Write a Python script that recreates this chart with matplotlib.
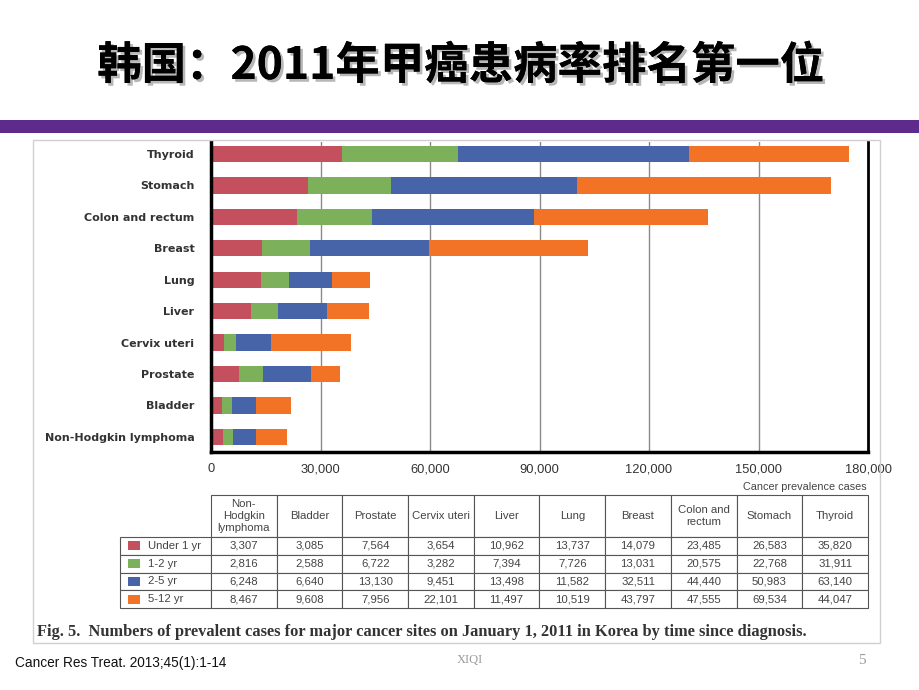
import matplotlib
matplotlib.use("Agg")
import matplotlib.pyplot as plt
import matplotlib.patheffects as pe
from matplotlib.patches import Rectangle
from matplotlib.table import Table

# ---------------- data ----------------
sites = ["Non-Hodgkin lymphoma", "Bladder", "Prostate", "Cervix uteri", "Liver",
         "Lung", "Breast", "Colon and rectum", "Stomach", "Thyroid"]
table_headers = ["Non-\nHodgkin\nlymphoma", "Bladder", "Prostate", "Cervix uteri", "Liver",
                 "Lung", "Breast", "Colon and\nrectum", "Stomach", "Thyroid"]
periods = ["Under 1 yr", "1-2 yr", "2-5 yr", "5-12 yr"]
under1 = [3307, 3085, 7564, 3654, 10962, 13737, 14079, 23485, 26583, 35820]
yr1_2 = [2816, 2588, 6722, 3282, 7394, 7726, 13031, 20575, 22768, 31911]
yr2_5 = [6248, 6640, 13130, 9451, 13498, 11582, 32511, 44440, 50983, 63140]
yr5_12 = [8467, 9608, 7956, 22101, 11497, 10519, 43797, 47555, 69534, 44047]
xticks = [0, 30000, 60000, 90000, 120000, 150000, 180000]
colors = ["#C4505E", "#7DB05A", "#4864A8", "#F37326"]

series = [under1, yr1_2, yr2_5, yr5_12]

W, H = 920, 690
fig = plt.figure(figsize=(W / 100, H / 100), dpi=100)
fig.patch.set_facecolor("white")

narrow = ["Liberation Sans Narrow", "Liberation Sans", "DejaVu Sans"]

def fx(px):
    return px / W

def fy(py):
    return 1 - py / H

# ---------------- title ----------------
fig.text(fx(461), fy(66), "韩国：2011年甲癌患病率排名第一位",
         fontsize=32, fontweight="black", family=["Noto Sans CJK SC", "DejaVu Sans"],
         ha="center", va="center", color="black",
         path_effects=[pe.withSimplePatchShadow(offset=(2, -2), shadow_rgbFace="#888888", alpha=0.6),
                       pe.Normal()])

# purple band
fig.patches.append(Rectangle((0, fy(133)), 1, 13 / H, transform=fig.transFigure,
                             facecolor="#5E2A8C", edgecolor="none", zorder=1))

# light frame around the figure image
fig.patches.append(Rectangle((fx(33), fy(643)), fx(880) - fx(33), (643 - 140) / H,
                             transform=fig.transFigure, facecolor="none",
                             edgecolor="#d0d0d0", linewidth=1, zorder=0))

# ---------------- bar chart ----------------
ax = fig.add_axes([fx(211), fy(452), (868 - 211) / W, (452 - 142) / H])
n = len(sites)
ypos = [n - 1 - i for i in range(n)]
left = [0] * n
for vals, c, lab in zip(series, colors, periods):
    ax.barh(ypos, vals, left=left, height=0.52, color=c, edgecolor="none", label=lab, zorder=2)
    left = [l + v for l, v in zip(left, vals)]

ax.set_ylim(9.48, -0.38)
ax.set_xlim(0, 180000)
ax.set_yticks(ypos)
ax.set_yticklabels(sites, fontsize=8, fontweight="bold", color="#333333")
ax.set_xticks(xticks)
ax.set_xticklabels([f"{v:,}" for v in xticks], fontsize=9.3, color="#333333", family=narrow)
ax.tick_params(axis="both", length=0)
ax.tick_params(axis="y", pad=12)
ax.tick_params(axis="x", pad=8)
for v in xticks[1:-1]:
    ax.axvline(v, color="#8a8a8a", linewidth=1, zorder=1)
ax.spines["top"].set_visible(False)
ax.spines["left"].set_linewidth(2.5)
ax.spines["bottom"].set_linewidth(2.5)
ax.spines["right"].set_linewidth(2.0)
for s in ["left", "bottom", "right"]:
    ax.spines[s].set_color("black")

fig.text(fx(867), fy(487), "Cancer prevalence cases", fontsize=7.8, color="#444444",
         ha="right", va="center", family=narrow)

# ---------------- data table ----------------
tax = fig.add_axes([fx(120), fy(608), (868 - 120) / W, (608 - 495) / H])
tax.set_axis_off()
tax.set_xlim(0, 1)
tax.set_ylim(0, 1)
tbl = Table(tax, bbox=[0, 0, 1, 1])
col0_w = 91
col_w = (868 - 211) / 10
head_h = 42
row_h = (608 - 537) / 4
edge = "#555555"

c = tbl.add_cell(0, 0, col0_w, head_h, text="", loc="center", edgecolor="none", facecolor="none")
for j, hdr in enumerate(table_headers):
    c = tbl.add_cell(0, j + 1, col_w, head_h, text=hdr, loc="center",
                     edgecolor=edge, facecolor="white")
    c.get_text().set_color("#444444")
for i, (lab, vals) in enumerate(zip(periods, series)):
    c = tbl.add_cell(i + 1, 0, col0_w, row_h, text=lab, loc="left",
                     edgecolor=edge, facecolor="white")
    c.PAD = 0.31
    c.get_text().set_color("#444444")
    for j, v in enumerate(vals):
        c = tbl.add_cell(i + 1, j + 1, col_w, row_h, text=f"{v:,}", loc="center",
                         edgecolor=edge, facecolor="white")
        c.get_text().set_color("#444444")
tbl.auto_set_font_size(False)
tbl.set_fontsize(8.2)
for cell in tbl.get_celld().values():
    cell.set_linewidth(0.8)
    cell.get_text().set_family(narrow)
tax.add_table(tbl)

# legend swatches in first column
total_w = col0_w + 10 * col_w
total_h = head_h + 4 * row_h
for i, col in enumerate(colors):
    ycen = 1 - (head_h + row_h * (i + 0.5)) / total_h
    tax.add_patch(Rectangle((8 / total_w, ycen - 4.5 / total_h), 12 / total_w, 9 / total_h,
                            facecolor=col, edgecolor="none", transform=tax.transAxes))

# ---------------- caption & footer ----------------
fig.text(fx(37), fy(632), "Fig. 5.  Numbers of prevalent cases for major cancer sites on January 1, 2011 in Korea by time since diagnosis.",
         fontsize=11.8, fontweight="bold", family=["Liberation Serif", "DejaVu Serif"],
         color="#333333", ha="left", va="center")
fig.text(fx(15), fy(663), "Cancer Res Treat. 2013;45(1):1-14", fontsize=9.8,
         family=narrow, color="#111111", ha="left", va="center")
fig.text(fx(470), fy(660), "XIQI", fontsize=9, family=["Liberation Serif", "DejaVu Serif"],
         color="#9a9a9a", ha="center", va="center")
fig.text(fx(862), fy(660), "5", fontsize=11, family=["Liberation Serif", "DejaVu Serif"],
         color="#9a9a9a", ha="center", va="center")

fig.savefig("out.png", dpi=100)
